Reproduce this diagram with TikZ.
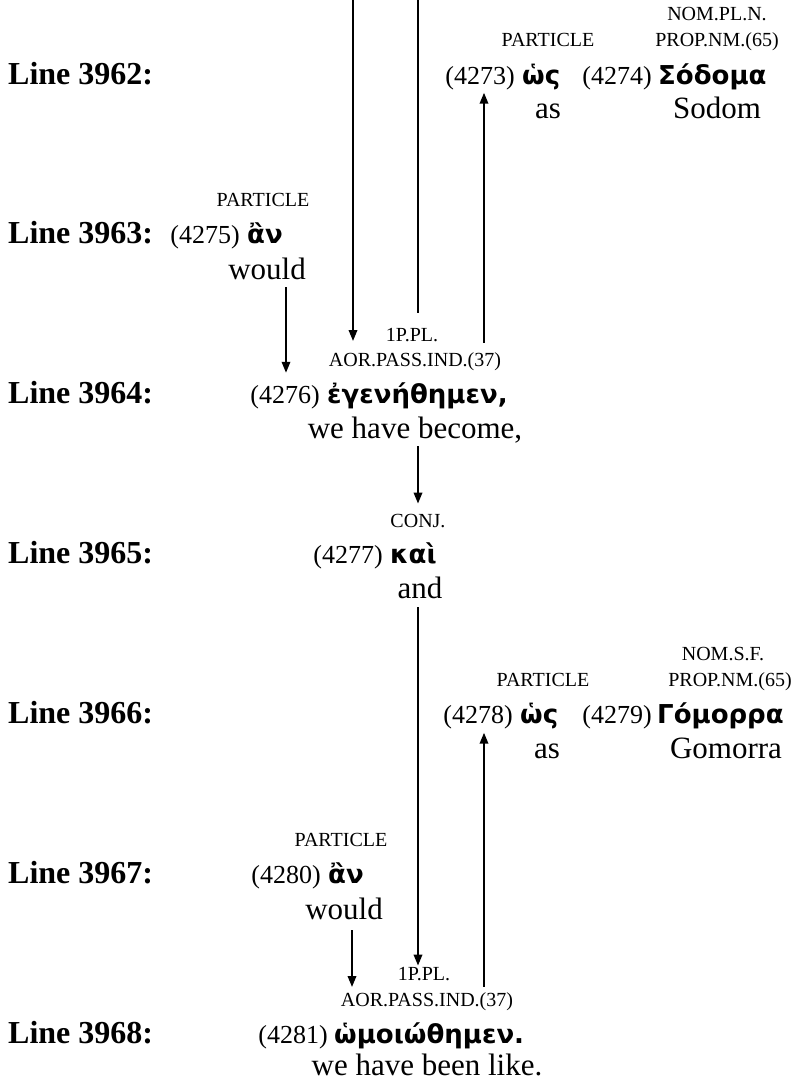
\documentclass[tikz,border=0pt]{standalone}
\usepackage{fontspec}
\setmainfont{Liberation Serif}
\newfontfamily\grkfont{DejaVu Sans}
\usetikzlibrary{arrows.meta}
\tikzset{
  lbl/.style={anchor=base west, inner sep=0pt, font=\fontsize{32}{38}\selectfont\bfseries},
  tagtxt/.style={anchor=base, inner sep=0pt, font=\fontsize{20}{24}\selectfont},
  numtxt/.style={anchor=base east, inner sep=0pt, font=\fontsize{26}{30}\selectfont},
  grktxt/.style={anchor=base west, inner sep=0pt, font=\fontsize{26}{30}\selectfont\grkfont\bfseries},
  glstxt/.style={anchor=base, inner sep=0pt, font=\fontsize{31}{36}\selectfont},
  conn/.style={line width=1.9pt},
  arr/.style={conn, -{Triangle[length=11pt,width=8.5pt]}},
}
\begin{document}
\begin{tikzpicture}[x=1pt,y=-1pt]
\useasboundingbox (0,0) rectangle (798,1082);
% Line 3962
\node[lbl] (L1) at (8,84) {Line 3962:};
\node[grktxt] (g1) at (522,84) {ὡς};
\node[numtxt] (n1) at (515,84) {(4273)};
\node[tagtxt] (t1) at (548,46) {PARTICLE};
\node[glstxt] (e1) at (548,118) {as};
\node[grktxt] (g2) at (658,84) {Σόδομα};
\node[numtxt] (n2) at (652,84) {(4274)};
\node[tagtxt] (t2a) at (717,20) {NOM.PL.N.};
\node[tagtxt] (t2b) at (717,46) {PROP.NM.(65)};
\node[glstxt] (e2) at (717,118) {Sodom};
% Line 3963
\node[lbl] (L2) at (8,243) {Line 3963:};
\node[grktxt] (g3) at (247,243) {ἂν};
\node[numtxt] (n3) at (240,243) {(4275)};
\node[tagtxt] (t3) at (263,206) {PARTICLE};
\node[glstxt] (e3) at (267,279) {would};
% Line 3964
\node[lbl] (L3) at (8,403) {Line 3964:};
\node[grktxt] (g4) at (327,403) {ἐγενήθημεν,};
\node[numtxt] (n4) at (320,403) {(4276)};
\node[tagtxt] (t4a) at (412,341) {1P.PL.};
\node[tagtxt] (t4b) at (415,366) {AOR.PASS.IND.(37)};
\node[glstxt] (e4) at (415,438) {we have become,};
% Line 3965
\node[lbl] (L4) at (8,563) {Line 3965:};
\node[grktxt] (g5) at (390,563) {καὶ};
\node[numtxt] (n5) at (383,563) {(4277)};
\node[tagtxt] (t5) at (418,527) {CONJ.};
\node[glstxt] (e5) at (420,598) {and};
% Line 3966
\node[lbl] (L5) at (8,723) {Line 3966:};
\node[grktxt] (g6) at (520,723) {ὡς};
\node[numtxt] (n6) at (513,723) {(4278)};
\node[tagtxt] (t6) at (543,686) {PARTICLE};
\node[glstxt] (e6) at (547,758) {as};
\node[grktxt] (g7) at (657,723) {Γόμορρα};
\node[numtxt] (n7) at (652,723) {(4279)};
\node[tagtxt] (t7a) at (723,660) {NOM.S.F.};
\node[tagtxt] (t7b) at (730,686) {PROP.NM.(65)};
\node[glstxt] (e7) at (726,758) {Gomorra};
% Line 3967
\node[lbl] (L6) at (8,883) {Line 3967:};
\node[grktxt] (g8) at (328,883) {ἂν};
\node[numtxt] (n8) at (321,883) {(4280)};
\node[tagtxt] (t8) at (341,846) {PARTICLE};
\node[glstxt] (e8) at (344,919) {would};
% Line 3968
\node[lbl] (L7) at (8,1043) {Line 3968:};
\node[grktxt] (g9) at (334,1043) {ὡμοιώθημεν.};
\node[numtxt] (n9) at (328,1043) {(4281)};
\node[tagtxt] (t9a) at (424,980) {1P.PL.};
\node[tagtxt] (t9b) at (427,1006) {AOR.PASS.IND.(37)};
\node[glstxt] (e9) at (427,1075) {we have been like.};
% connectors
\coordinate (a1s) at (353,0);
\coordinate (b1s) at (418,0);
\coordinate (b1e) at (418,313);
\coordinate (x484) at (484,0);
\coordinate (x286) at (286,0);
\coordinate (x352) at (352,0);
\coordinate (x418) at (418,0);
\draw[arr] (a1s) -- (a1s |- t4a.base);
\draw[conn] (b1s) -- (b1e);
\draw[arr] ([yshift=9pt]t4b.north -| x484) -- ([yshift=-3pt]n1.south -| x484);
\draw[arr] ([yshift=-8pt]e3.base -| x286) -- ([yshift=12pt]n4.north -| x286);
\draw[arr] ([yshift=-8pt]e4.base -| x418) -- ([yshift=10pt]t5.north -| x418);
\draw[arr] ([yshift=-9pt]e5.base -| x418) -- ([yshift=1pt]t9a.north -| x418);
\draw[arr] ([yshift=5pt]t9b.north -| x484) -- ([yshift=-4pt]n6.south -| x484);
\draw[arr] ([yshift=-11pt]e8.base -| x352) -- ([yshift=-7pt]t9a.base -| x352);
\end{tikzpicture}
\end{document}
